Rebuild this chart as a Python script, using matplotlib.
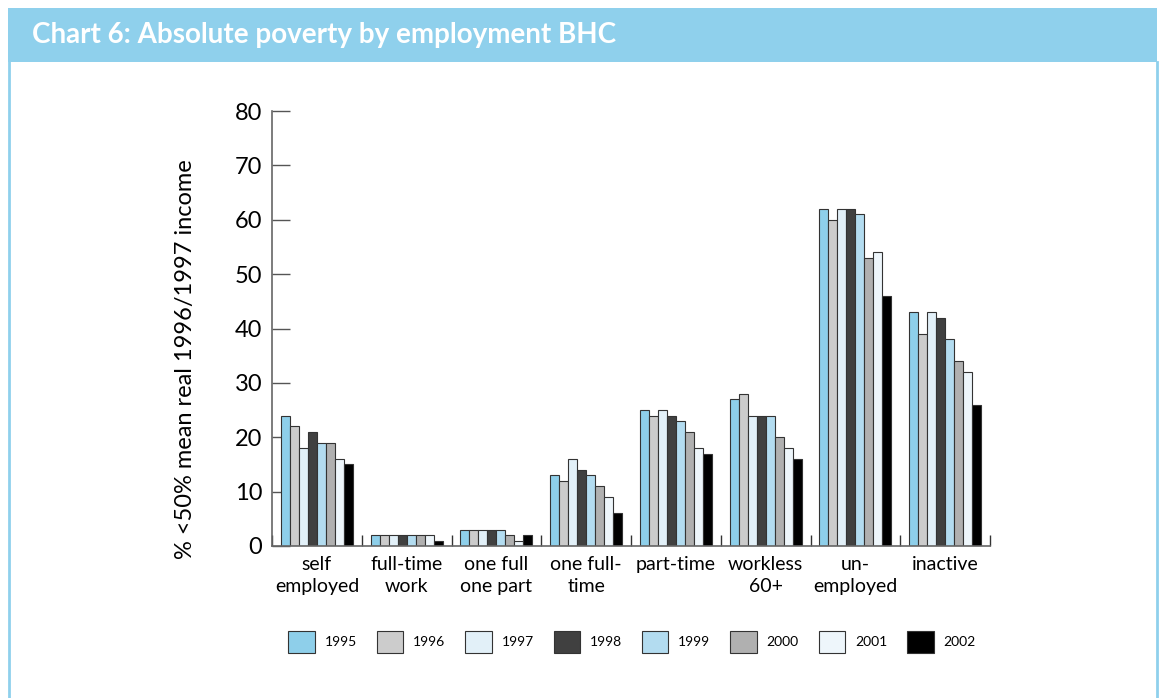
import matplotlib
matplotlib.use("Agg")
import matplotlib.pyplot as plt
import numpy as np
from matplotlib.patches import Rectangle

categories = ["self\nemployed", "full-time\nwork", "one full\none part", "one full-\ntime",
              "part-time", "workless\n60+", "un-\nemployed", "inactive"]
years = ["1995", "1996", "1997", "1998", "1999", "2000", "2001", "2002"]
v1995 = [24, 2, 3, 13, 25, 27, 62, 43]
v1996 = [22, 2, 3, 12, 24, 28, 60, 39]
v1997 = [18, 2, 3, 16, 25, 24, 62, 43]
v1998 = [21, 2, 3, 14, 24, 24, 62, 42]
v1999 = [19, 2, 3, 13, 23, 24, 61, 38]
v2000 = [19, 2, 2, 11, 21, 20, 53, 34]
v2001 = [16, 2, 1, 9, 18, 18, 54, 32]
v2002 = [15, 1, 2, 6, 17, 16, 46, 26]
series = [v1995, v1996, v1997, v1998, v1999, v2000, v2001, v2002]
colors = ["#8ecfea", "#cccccc", "#e2f0f8", "#404040", "#b3dcf0", "#b0b0b0", "#eef6fb", "#000000"]

plt.rcParams['font.family'] = ['Lato', 'DejaVu Sans']
W, H = 1159, 698
fig = plt.figure(figsize=(W / 100, H / 100), dpi=100)

# frame & header
frame_col = "#8fd0ec"
fig.patches.append(Rectangle((8 / W, 1 - 62 / H), (1157 - 8) / W, 54 / H, transform=fig.transFigure,
                             facecolor=frame_col, edgecolor="none", zorder=0))
fig.add_artist(plt.Line2D([9 / W, 9 / W], [0, 1 - 62 / H], transform=fig.transFigure, color=frame_col, lw=2))
fig.add_artist(plt.Line2D([1156.5 / W, 1156.5 / W], [0, 1 - 62 / H], transform=fig.transFigure, color=frame_col, lw=2))
fig.text(32 / W, 1 - 35 / H, "Chart 6: Absolute poverty by employment BHC", color="white",
         fontsize=20, fontweight="bold", va="center", ha="left")

ax = fig.add_axes([272 / W, 1 - 546 / H, (990 - 272) / W, (546 - 111) / H])
n = len(categories)
nb = len(series)
bw = 0.1
x = np.arange(n)
for i, (s, c) in enumerate(zip(series, colors)):
    ax.bar(x + (i - (nb - 1) / 2) * bw, s, width=bw, color=c, edgecolor="#333333", linewidth=0.8,
           label=years[i], zorder=2)

ax.set_xlim(-0.5, n - 0.5)
ax.set_ylim(0, 80)
ax.set_yticks(range(0, 81, 10))
ax.tick_params(axis="y", direction="in", length=13, width=1, color="#555555", labelsize=17, pad=7)
ax.set_xticks(np.arange(n + 1) - 0.5, minor=True)
ax.set_xticks(x)
ax.set_xticklabels(categories, fontsize=14, linespacing=1.4)
ax.tick_params(axis="x", which="major", length=0, pad=7)
ax.tick_params(axis="x", which="minor", direction="in", length=8, color="#333333", width=1)
for side in ["top", "right"]:
    ax.spines[side].set_visible(False)
for side in ["left", "bottom"]:
    ax.spines[side].set_color("#666666")
    ax.spines[side].set_linewidth(1.2)
ax.set_ylabel("% <50% mean real 1996/1997 income", fontsize=17)
ax.yaxis.set_label_coords(-0.106, 0.43)

handles, labels = ax.get_legend_handles_labels()
leg = fig.legend(handles, labels, loc="center", bbox_to_anchor=(632 / W, 1 - 642 / H), ncol=8,
                 frameon=False, fontsize=10, handlelength=1.9, handleheight=2.0,
                 columnspacing=1.45, handletextpad=0.7)

fig.savefig("out.png", dpi=100, facecolor="white")
